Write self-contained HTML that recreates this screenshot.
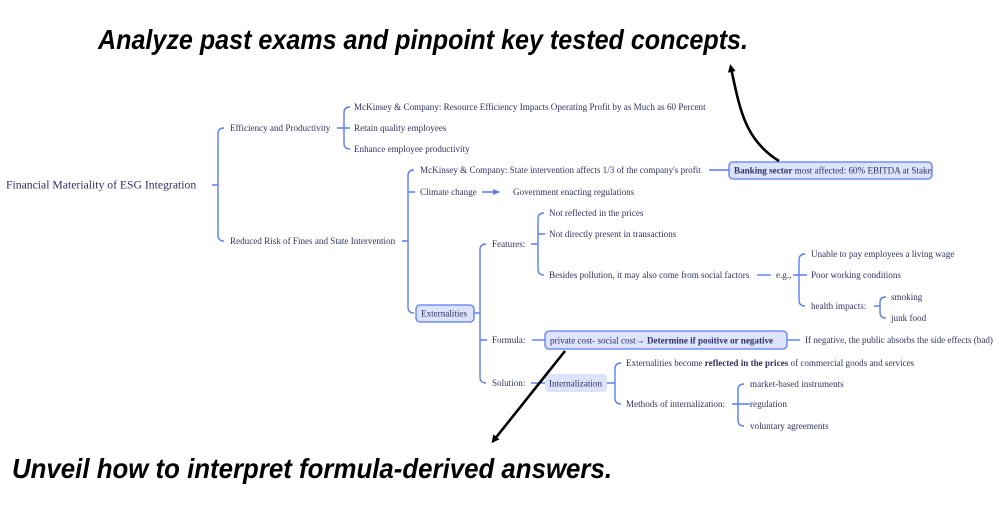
<!DOCTYPE html>
<html><head><meta charset="utf-8"><style>
html,body{margin:0;padding:0;background:#fff;}
svg{display:block;}
.t{font-family:"Liberation Serif","DejaVu Serif",serif;font-size:9.1px;fill:#2e3162;dominant-baseline:central;}
.b{font-weight:bold;}
.h{font-family:"Liberation Sans","DejaVu Sans",sans-serif;font-size:28px;font-weight:bold;font-style:italic;fill:#000;}
.l{stroke:#5b7cf6;stroke-width:1.4;fill:none;}
</style></head><body>
<svg width="1005" height="514" viewBox="0 0 1005 514" xmlns="http://www.w3.org/2000/svg">
<defs><marker id="ah" markerWidth="8" markerHeight="8" refX="4" refY="4" orient="auto" markerUnits="userSpaceOnUse"><path d="M0,0 L8,4 L0,8 Z" fill="#000"/></marker>
<marker id="ab" markerWidth="8" markerHeight="8" refX="6" refY="3" orient="auto" markerUnits="userSpaceOnUse"><path d="M0,0 L7,3 L0,6 Z" fill="#5b7cf6"/></marker></defs>

<text class="h" x="98" y="49" textLength="650" lengthAdjust="spacingAndGlyphs">Analyze past exams and pinpoint key tested concepts.</text>
<text class="h" x="12" y="478" textLength="600" lengthAdjust="spacingAndGlyphs">Unveil how to interpret formula-derived answers.</text>

<!-- root -->
<text class="t" x="6" y="185" style="font-size:11.7px">Financial Materiality of ESG Integration</text>
<path class="l" d="M212 185H218 M224 128Q218 128 218 134V235Q218 241 224 241"/>
<text class="t" x="230" y="128">Efficiency and Productivity</text>
<text class="t" x="230" y="241">Reduced Risk of Fines and State Intervention</text>

<!-- efficiency -->
<path class="l" d="M337 128H350 M350 107Q344 107 344 113V143Q344 149 350 149"/>
<text class="t" x="354" y="107">McKinsey &amp; Company: Resource Efficiency Impacts Operating Profit by as Much as 60 Percent</text>
<text class="t" x="354" y="128">Retain quality employees</text>
<text class="t" x="354" y="149">Enhance employee productivity</text>

<!-- reduced risk -->
<path class="l" d="M402 241H408 M414 170Q408 170 408 176V307Q408 313 414 313 M408 192H415"/>
<text class="t" x="420" y="170">McKinsey &amp; Company: State intervention affects 1/3 of the company's profit</text>
<path class="l" d="M709 170H729"/>
<rect x="729" y="162" width="203" height="17" rx="4" fill="#dde3fb" stroke="#5b7cf6" stroke-width="1.3"/>
<text class="t" x="734" y="170.5"><tspan class="b">Banking sector</tspan> most affected: 60% EBITDA at Stake</text>
<text class="t" x="420" y="192">Climate change</text>
<path class="l" d="M482 192H499" marker-end="url(#ab)"/>
<text class="t" x="513" y="192">Government enacting regulations</text>

<rect x="416" y="305" width="58" height="17" rx="4" fill="#dde3fb" stroke="#5b7cf6" stroke-width="1.3"/>
<text class="t" x="421" y="313.5">Externalities</text>
<path class="l" d="M474 313H480 M486 244Q480 244 480 250V377Q480 383 486 383 M480 340H487"/>
<text class="t" x="492" y="244">Features:</text>
<text class="t" x="492" y="340">Formula:</text>
<text class="t" x="492" y="383">Solution:</text>

<!-- features -->
<path class="l" d="M531 244H538 M544 213Q538 213 538 219V269Q538 275 544 275 M538 234H545"/>
<text class="t" x="549" y="213">Not reflected in the prices</text>
<text class="t" x="549" y="234">Not directly present in transactions</text>
<text class="t" x="549" y="275">Besides pollution, it may also come from social factors</text>
<path class="l" d="M757 275H771"/>
<text class="t" x="776" y="275">e.g.,</text>
<path class="l" d="M793 275H807 M805 254Q799 254 799 260V300Q799 306 805 306"/>
<text class="t" x="811" y="254">Unable to pay employees a living wage</text>
<text class="t" x="811" y="275">Poor working conditions</text>
<text class="t" x="811" y="306">health impacts:</text>
<path class="l" d="M874 306H880 M886 297Q880 297 880 302V312Q880 318 886 318"/>
<text class="t" x="891" y="297">smoking</text>
<text class="t" x="891" y="318">junk food</text>

<!-- formula -->
<path class="l" d="M532 340H545"/>
<rect x="545" y="331" width="242" height="18" rx="4" fill="#dde3fb" stroke="#5b7cf6" stroke-width="1.3"/>
<text class="t" x="550" y="340.5">private cost- social cost→ <tspan class="b">Determine if positive or negative</tspan></text>
<path class="l" d="M787 340H800"/>
<text class="t" x="805" y="340">If negative, the public absorbs the side effects (bad)</text>

<!-- solution -->
<path class="l" d="M531 383H545"/>
<rect x="545" y="374" width="62" height="18" rx="4" fill="#dde3fb"/>
<text class="t" x="549" y="383.5">Internalization</text>
<path class="l" d="M607 383H615 M621 363Q615 363 615 369V398Q615 404 621 404"/>
<text class="t" x="626" y="363">Externalities become <tspan class="b">reflected in the prices</tspan> of commercial goods and services</text>
<text class="t" x="626" y="404">Methods of internalization:</text>
<path class="l" d="M732 404H750 M744 384Q738 384 738 390V420Q738 426 744 426"/>
<text class="t" x="750" y="384">market-based instruments</text>
<text class="t" x="750" y="404">regulation</text>
<text class="t" x="750" y="426">voluntary agreements</text>

<!-- black arrows -->
<path d="M779 161C745 140 740 110 731 68" stroke="#000" stroke-width="2.6" fill="none" marker-end="url(#ah)"/>
<path d="M565 351L494 440" stroke="#000" stroke-width="2.6" fill="none" marker-end="url(#ah)"/>
</svg>
</body></html>
